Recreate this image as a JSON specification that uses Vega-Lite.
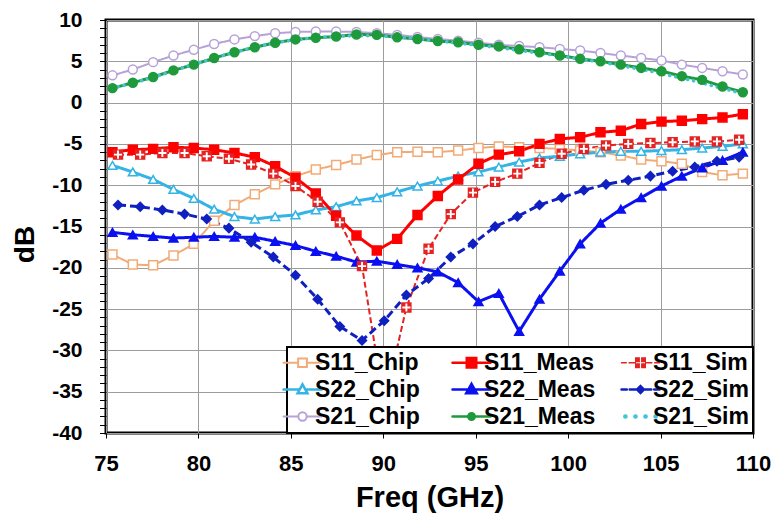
{
  "$schema": "https://vega.github.io/schema/vega-lite/v6.json",
  "width": 647,
  "height": 413,
  "autosize": {"type": "none"},
  "padding": {"left": 106, "top": 20, "right": 25, "bottom": 82},
  "background": "white",
  "config": {
    "font": "Liberation Sans",
    "view": {"stroke": "black", "strokeWidth": 3},
    "axis": {"domain": false, "grid": true, "gridColor": "#9c9c9c", "gridWidth": 1, "tickColor": "black", "tickWidth": 1, "labelColor": "black", "titleColor": "black", "labelFontWeight": "bold", "titleFontWeight": "bold", "labelFont": "Liberation Sans", "titleFont": "Liberation Sans"},
    "legend": {"strokeColor": "black", "strokeWidth": 2, "fillColor": "white", "padding": 4, "labelFont": "Liberation Sans", "labelColor": "black"}
  },
  "data": {"values": [
    {"s":"S11_Chip","f":75.35,"db":-18.4},{"s":"S11_Chip","f":76.45,"db":-19.6},{"s":"S11_Chip","f":77.55,"db":-19.7},{"s":"S11_Chip","f":78.65,"db":-18.5},{"s":"S11_Chip","f":79.75,"db":-17.1},{"s":"S11_Chip","f":80.85,"db":-14.3},{"s":"S11_Chip","f":81.95,"db":-12.4},{"s":"S11_Chip","f":83.05,"db":-11.1},{"s":"S11_Chip","f":84.15,"db":-9.9},{"s":"S11_Chip","f":85.25,"db":-8.9},{"s":"S11_Chip","f":86.35,"db":-8.1},{"s":"S11_Chip","f":87.45,"db":-7.55},{"s":"S11_Chip","f":88.55,"db":-6.9},{"s":"S11_Chip","f":89.65,"db":-6.35},{"s":"S11_Chip","f":90.75,"db":-6.0},{"s":"S11_Chip","f":91.85,"db":-5.95},{"s":"S11_Chip","f":92.95,"db":-6.0},{"s":"S11_Chip","f":94.05,"db":-5.8},{"s":"S11_Chip","f":95.15,"db":-5.5},{"s":"S11_Chip","f":96.25,"db":-5.3},{"s":"S11_Chip","f":97.35,"db":-5.4},{"s":"S11_Chip","f":98.45,"db":-5.5},{"s":"S11_Chip","f":99.55,"db":-5.6},{"s":"S11_Chip","f":100.65,"db":-5.8},{"s":"S11_Chip","f":101.75,"db":-6.0},{"s":"S11_Chip","f":102.85,"db":-6.4},{"s":"S11_Chip","f":103.95,"db":-6.9},{"s":"S11_Chip","f":105.05,"db":-7.1},{"s":"S11_Chip","f":106.15,"db":-7.4},{"s":"S11_Chip","f":107.25,"db":-8.4},{"s":"S11_Chip","f":108.35,"db":-8.8},{"s":"S11_Chip","f":109.45,"db":-8.6},
    {"s":"S22_Chip","f":75.35,"db":-7.6},{"s":"S22_Chip","f":76.45,"db":-8.4},{"s":"S22_Chip","f":77.55,"db":-9.3},{"s":"S22_Chip","f":78.65,"db":-10.5},{"s":"S22_Chip","f":79.75,"db":-11.6},{"s":"S22_Chip","f":80.85,"db":-12.9},{"s":"S22_Chip","f":81.95,"db":-13.8},{"s":"S22_Chip","f":83.05,"db":-14.1},{"s":"S22_Chip","f":84.15,"db":-13.8},{"s":"S22_Chip","f":85.25,"db":-13.6},{"s":"S22_Chip","f":86.35,"db":-13.0},{"s":"S22_Chip","f":87.45,"db":-12.6},{"s":"S22_Chip","f":88.55,"db":-11.9},{"s":"S22_Chip","f":89.65,"db":-11.5},{"s":"S22_Chip","f":90.75,"db":-10.8},{"s":"S22_Chip","f":91.85,"db":-10.1},{"s":"S22_Chip","f":92.95,"db":-9.5},{"s":"S22_Chip","f":94.05,"db":-8.9},{"s":"S22_Chip","f":95.15,"db":-8.4},{"s":"S22_Chip","f":96.25,"db":-7.8},{"s":"S22_Chip","f":97.35,"db":-7.2},{"s":"S22_Chip","f":98.45,"db":-6.7},{"s":"S22_Chip","f":99.55,"db":-6.5},{"s":"S22_Chip","f":100.65,"db":-6.2},{"s":"S22_Chip","f":101.75,"db":-6.0},{"s":"S22_Chip","f":102.85,"db":-5.9},{"s":"S22_Chip","f":103.95,"db":-5.9},{"s":"S22_Chip","f":105.05,"db":-5.8},{"s":"S22_Chip","f":106.15,"db":-5.7},{"s":"S22_Chip","f":107.25,"db":-5.5},{"s":"S22_Chip","f":108.35,"db":-5.3},{"s":"S22_Chip","f":109.45,"db":-5.0},
    {"s":"S21_Chip","f":75.35,"db":3.3},{"s":"S21_Chip","f":76.45,"db":4.0},{"s":"S21_Chip","f":77.55,"db":4.9},{"s":"S21_Chip","f":78.65,"db":5.7},{"s":"S21_Chip","f":79.75,"db":6.4},{"s":"S21_Chip","f":80.85,"db":7.1},{"s":"S21_Chip","f":81.95,"db":7.65},{"s":"S21_Chip","f":83.05,"db":8.05},{"s":"S21_Chip","f":84.15,"db":8.4},{"s":"S21_Chip","f":85.25,"db":8.55},{"s":"S21_Chip","f":86.35,"db":8.6},{"s":"S21_Chip","f":87.45,"db":8.6},{"s":"S21_Chip","f":88.55,"db":8.55},{"s":"S21_Chip","f":89.65,"db":8.4},{"s":"S21_Chip","f":90.75,"db":8.2},{"s":"S21_Chip","f":91.85,"db":7.95},{"s":"S21_Chip","f":92.95,"db":7.7},{"s":"S21_Chip","f":94.05,"db":7.5},{"s":"S21_Chip","f":95.15,"db":7.25},{"s":"S21_Chip","f":96.25,"db":7.0},{"s":"S21_Chip","f":97.35,"db":6.85},{"s":"S21_Chip","f":98.45,"db":6.7},{"s":"S21_Chip","f":99.55,"db":6.5},{"s":"S21_Chip","f":100.65,"db":6.3},{"s":"S21_Chip","f":101.75,"db":6.0},{"s":"S21_Chip","f":102.85,"db":5.7},{"s":"S21_Chip","f":103.95,"db":5.4},{"s":"S21_Chip","f":105.05,"db":5.1},{"s":"S21_Chip","f":106.15,"db":4.6},{"s":"S21_Chip","f":107.25,"db":4.2},{"s":"S21_Chip","f":108.35,"db":3.8},{"s":"S21_Chip","f":109.45,"db":3.4},
    {"s":"S21_Meas","f":75.35,"db":1.75},{"s":"S21_Meas","f":76.45,"db":2.4},{"s":"S21_Meas","f":77.55,"db":3.1},{"s":"S21_Meas","f":78.65,"db":3.9},{"s":"S21_Meas","f":79.75,"db":4.6},{"s":"S21_Meas","f":80.85,"db":5.4},{"s":"S21_Meas","f":81.95,"db":6.1},{"s":"S21_Meas","f":83.05,"db":6.7},{"s":"S21_Meas","f":84.15,"db":7.25},{"s":"S21_Meas","f":85.25,"db":7.65},{"s":"S21_Meas","f":86.35,"db":7.85},{"s":"S21_Meas","f":87.45,"db":8.0},{"s":"S21_Meas","f":88.55,"db":8.25},{"s":"S21_Meas","f":89.65,"db":8.2},{"s":"S21_Meas","f":90.75,"db":7.9},{"s":"S21_Meas","f":91.85,"db":7.7},{"s":"S21_Meas","f":92.95,"db":7.45},{"s":"S21_Meas","f":94.05,"db":7.3},{"s":"S21_Meas","f":95.15,"db":7.0},{"s":"S21_Meas","f":96.25,"db":6.8},{"s":"S21_Meas","f":97.35,"db":6.45},{"s":"S21_Meas","f":98.45,"db":6.1},{"s":"S21_Meas","f":99.55,"db":5.7},{"s":"S21_Meas","f":100.65,"db":5.3},{"s":"S21_Meas","f":101.75,"db":5.0},{"s":"S21_Meas","f":102.85,"db":4.6},{"s":"S21_Meas","f":103.95,"db":4.2},{"s":"S21_Meas","f":105.05,"db":3.8},{"s":"S21_Meas","f":106.15,"db":3.2},{"s":"S21_Meas","f":107.25,"db":2.75},{"s":"S21_Meas","f":108.35,"db":1.95},{"s":"S21_Meas","f":109.45,"db":1.25},
    {"s":"S11_Meas","f":75.35,"db":-6.0},{"s":"S11_Meas","f":76.45,"db":-5.7},{"s":"S11_Meas","f":77.55,"db":-5.6},{"s":"S11_Meas","f":78.65,"db":-5.4},{"s":"S11_Meas","f":79.75,"db":-5.5},{"s":"S11_Meas","f":80.85,"db":-5.7},{"s":"S11_Meas","f":81.95,"db":-6.1},{"s":"S11_Meas","f":83.05,"db":-6.6},{"s":"S11_Meas","f":84.15,"db":-7.7},{"s":"S11_Meas","f":85.25,"db":-9.1},{"s":"S11_Meas","f":86.35,"db":-11.0},{"s":"S11_Meas","f":87.45,"db":-13.7},{"s":"S11_Meas","f":88.55,"db":-16.1},{"s":"S11_Meas","f":89.65,"db":-17.9},{"s":"S11_Meas","f":90.75,"db":-16.5},{"s":"S11_Meas","f":91.85,"db":-13.6},{"s":"S11_Meas","f":92.95,"db":-11.3},{"s":"S11_Meas","f":94.05,"db":-9.3},{"s":"S11_Meas","f":95.15,"db":-7.4},{"s":"S11_Meas","f":96.25,"db":-6.3},{"s":"S11_Meas","f":97.35,"db":-5.9},{"s":"S11_Meas","f":98.45,"db":-5.0},{"s":"S11_Meas","f":99.55,"db":-4.4},{"s":"S11_Meas","f":100.65,"db":-4.2},{"s":"S11_Meas","f":101.75,"db":-3.6},{"s":"S11_Meas","f":102.85,"db":-3.4},{"s":"S11_Meas","f":103.95,"db":-2.6},{"s":"S11_Meas","f":105.05,"db":-2.3},{"s":"S11_Meas","f":106.15,"db":-2.2},{"s":"S11_Meas","f":107.25,"db":-2.0},{"s":"S11_Meas","f":108.35,"db":-1.8},{"s":"S11_Meas","f":109.45,"db":-1.4},
    {"s":"S22_Meas","f":75.35,"db":-15.7},{"s":"S22_Meas","f":76.45,"db":-16.0},{"s":"S22_Meas","f":77.55,"db":-16.2},{"s":"S22_Meas","f":78.65,"db":-16.4},{"s":"S22_Meas","f":79.75,"db":-16.3},{"s":"S22_Meas","f":80.85,"db":-16.2},{"s":"S22_Meas","f":81.95,"db":-16.3},{"s":"S22_Meas","f":83.05,"db":-16.3},{"s":"S22_Meas","f":84.15,"db":-16.8},{"s":"S22_Meas","f":85.25,"db":-17.3},{"s":"S22_Meas","f":86.35,"db":-18.0},{"s":"S22_Meas","f":87.45,"db":-18.6},{"s":"S22_Meas","f":88.55,"db":-19.3},{"s":"S22_Meas","f":89.65,"db":-19.2},{"s":"S22_Meas","f":90.75,"db":-19.6},{"s":"S22_Meas","f":91.85,"db":-20.0},{"s":"S22_Meas","f":92.95,"db":-20.5},{"s":"S22_Meas","f":94.05,"db":-21.8},{"s":"S22_Meas","f":95.15,"db":-24.1},{"s":"S22_Meas","f":96.25,"db":-23.1},{"s":"S22_Meas","f":97.35,"db":-27.7},{"s":"S22_Meas","f":98.45,"db":-23.8},{"s":"S22_Meas","f":99.55,"db":-20.4},{"s":"S22_Meas","f":100.65,"db":-17.1},{"s":"S22_Meas","f":101.75,"db":-14.6},{"s":"S22_Meas","f":102.85,"db":-12.9},{"s":"S22_Meas","f":103.95,"db":-11.5},{"s":"S22_Meas","f":105.05,"db":-10.1},{"s":"S22_Meas","f":106.15,"db":-8.9},{"s":"S22_Meas","f":107.25,"db":-7.9},{"s":"S22_Meas","f":108.35,"db":-7.0},{"s":"S22_Meas","f":109.45,"db":-6.0},
    {"s":"S11_Sim","f":75.65,"db":-6.3},{"s":"S11_Sim","f":76.85,"db":-6.3},{"s":"S11_Sim","f":78.05,"db":-6.1},{"s":"S11_Sim","f":79.25,"db":-6.1},{"s":"S11_Sim","f":80.45,"db":-6.5},{"s":"S11_Sim","f":81.65,"db":-6.8},{"s":"S11_Sim","f":82.85,"db":-7.5},{"s":"S11_Sim","f":84.05,"db":-8.6},{"s":"S11_Sim","f":85.25,"db":-10.1},{"s":"S11_Sim","f":86.45,"db":-12.0},{"s":"S11_Sim","f":87.65,"db":-14.5},{"s":"S11_Sim","f":88.85,"db":-19.8},{"s":"S11_Sim","f":90.05,"db":-36.5},{"s":"S11_Sim","f":91.25,"db":-24.8},{"s":"S11_Sim","f":92.45,"db":-17.7},{"s":"S11_Sim","f":93.65,"db":-13.5},{"s":"S11_Sim","f":94.85,"db":-10.9},{"s":"S11_Sim","f":96.05,"db":-9.6},{"s":"S11_Sim","f":97.25,"db":-8.6},{"s":"S11_Sim","f":98.45,"db":-7.3},{"s":"S11_Sim","f":99.65,"db":-6.2},{"s":"S11_Sim","f":100.85,"db":-5.6},{"s":"S11_Sim","f":102.05,"db":-5.2},{"s":"S11_Sim","f":103.25,"db":-5.0},{"s":"S11_Sim","f":104.45,"db":-4.9},{"s":"S11_Sim","f":105.65,"db":-4.8},{"s":"S11_Sim","f":106.85,"db":-4.7},{"s":"S11_Sim","f":108.05,"db":-4.7},{"s":"S11_Sim","f":109.25,"db":-4.5},
    {"s":"S22_Sim","f":75.65,"db":-12.4},{"s":"S22_Sim","f":76.85,"db":-12.6},{"s":"S22_Sim","f":78.05,"db":-13.0},{"s":"S22_Sim","f":79.25,"db":-13.5},{"s":"S22_Sim","f":80.45,"db":-14.1},{"s":"S22_Sim","f":81.65,"db":-15.2},{"s":"S22_Sim","f":82.85,"db":-16.9},{"s":"S22_Sim","f":84.05,"db":-18.7},{"s":"S22_Sim","f":85.25,"db":-20.9},{"s":"S22_Sim","f":86.45,"db":-23.8},{"s":"S22_Sim","f":87.65,"db":-27.1},{"s":"S22_Sim","f":88.85,"db":-28.8},{"s":"S22_Sim","f":90.05,"db":-26.4},{"s":"S22_Sim","f":91.25,"db":-23.3},{"s":"S22_Sim","f":92.45,"db":-21.3},{"s":"S22_Sim","f":93.65,"db":-18.7},{"s":"S22_Sim","f":94.85,"db":-17.1},{"s":"S22_Sim","f":96.05,"db":-15.0},{"s":"S22_Sim","f":97.25,"db":-13.8},{"s":"S22_Sim","f":98.45,"db":-12.4},{"s":"S22_Sim","f":99.65,"db":-11.5},{"s":"S22_Sim","f":100.85,"db":-10.6},{"s":"S22_Sim","f":102.05,"db":-9.9},{"s":"S22_Sim","f":103.25,"db":-9.4},{"s":"S22_Sim","f":104.45,"db":-8.9},{"s":"S22_Sim","f":105.65,"db":-8.3},{"s":"S22_Sim","f":106.85,"db":-7.8},{"s":"S22_Sim","f":108.05,"db":-7.1},{"s":"S22_Sim","f":109.25,"db":-6.6},
    {"s":"S21_Sim","f":75.65,"db":1.9},{"s":"S21_Sim","f":76.85,"db":2.6},{"s":"S21_Sim","f":78.05,"db":3.4},{"s":"S21_Sim","f":79.25,"db":4.3},{"s":"S21_Sim","f":80.45,"db":5.1},{"s":"S21_Sim","f":81.65,"db":5.9},{"s":"S21_Sim","f":82.85,"db":6.6},{"s":"S21_Sim","f":84.05,"db":7.2},{"s":"S21_Sim","f":85.25,"db":7.6},{"s":"S21_Sim","f":86.45,"db":7.9},{"s":"S21_Sim","f":87.65,"db":8.05},{"s":"S21_Sim","f":88.85,"db":8.1},{"s":"S21_Sim","f":90.05,"db":8.05},{"s":"S21_Sim","f":91.25,"db":7.85},{"s":"S21_Sim","f":92.45,"db":7.6},{"s":"S21_Sim","f":93.65,"db":7.3},{"s":"S21_Sim","f":94.85,"db":7.0},{"s":"S21_Sim","f":96.05,"db":6.7},{"s":"S21_Sim","f":97.25,"db":6.35},{"s":"S21_Sim","f":98.45,"db":6.0},{"s":"S21_Sim","f":99.65,"db":5.6},{"s":"S21_Sim","f":100.85,"db":5.2},{"s":"S21_Sim","f":102.05,"db":4.8},{"s":"S21_Sim","f":103.25,"db":4.3},{"s":"S21_Sim","f":104.45,"db":3.8},{"s":"S21_Sim","f":105.65,"db":3.2},{"s":"S21_Sim","f":106.85,"db":2.6},{"s":"S21_Sim","f":108.05,"db":1.9},{"s":"S21_Sim","f":109.25,"db":1.2}
  ]},
  "encoding": {
    "x": {"field": "f", "type": "quantitative", "scale": {"domain": [75, 110], "nice": false, "zero": false},
      "axis": {"values": [75, 80, 85, 90, 95, 100, 105, 110], "title": "Freq (GHz)", "titleFontSize": 29, "labelFontSize": 22, "tickSize": 5, "labelPadding": 15, "titlePadding": 9, "labelFlush": false, "labelOverlap": false}},
    "y": {"field": "db", "type": "quantitative", "scale": {"domain": [-40, 10], "nice": false, "zero": false},
      "axis": {"values": [-40,-39,-38,-37,-36,-35,-34,-33,-32,-31,-30,-29,-28,-27,-26,-25,-24,-23,-22,-21,-20,-19,-18,-17,-16,-15,-14,-13,-12,-11,-10,-9,-8,-7,-6,-5,-4,-3,-2,-1,0,1,2,3,4,5,6,7,8,9,10],
        "labelExpr": "datum.value % 5 === 0 ? '' + datum.value : ''",
        "gridOpacity": {"condition": {"test": "datum.value % 5 === 0", "value": 1}, "value": 0},
        "tickSize": 6.5, "labelPadding": 17.5, "labelFontSize": 21, "title": "dB", "titleFontSize": 28, "titlePadding": 12, "titleY": 224, "labelFlush": false, "labelOverlap": false}}
  },
  "layer": [
    {
      "transform": [{"filter": "indexof(['S11_Chip','S21_Chip','S11_Sim'], datum.s) >= 0"}],
      "mark": {"type": "line", "strokeWidth": 2},
      "encoding": {
        "color": {"field": "s", "type": "nominal",
          "scale": {"domain": ["S11_Chip","S22_Chip","S21_Chip","S11_Meas","S22_Meas","S21_Meas","S11_Sim","S22_Sim","S21_Sim"], "range": ["#F2AA76","#33B3E6","#B7A2D8","#FF0000","#0A10F0","#1E9A3C","#E52222","#1020C0","#45C3D3"]},
          "legend": {"orient": "bottom-right", "offset": 0, "title": null, "columns": 3, "gridAlign": "all", "columnPadding": 20, "rowPadding": 3, "padding": 4, "symbolSize": 1444, "labelFontSize": 23, "labelFontWeight": "bold", "labelOffset": 1, "labelLimit": 200, "fillColor": "white", "strokeColor": "black", "zindex": 1,
            "encode": {"symbols": {"update": {
              "shape": {"signal": "datum.value==='S11_Chip'?'M-1,0H-0.23M0.23,0H1M-0.23,-0.23H0.23V0.23H-0.23Z':datum.value==='S11_Meas'?'M-1,0H1M-0.25,-0.25H0.25V0.25H-0.25Z':datum.value==='S11_Sim'?'M-1,0H-0.75M-0.6,0H-0.27M0.27,0H0.6M0.75,0H1M-0.25,-0.25H-0.07V-0.07H-0.25ZM0.07,-0.25H0.25V-0.07H0.07ZM-0.25,0.07H-0.07V0.25H-0.25ZM0.07,0.07H0.25V0.25H0.07Z':datum.value==='S22_Chip'?'M-1,0H-0.15M0.15,0H1M0,-0.27L0.26,0.2H-0.26Z':datum.value==='S22_Meas'?'M-1,0H1M0,-0.3L0.28,0.2H-0.28Z':datum.value==='S22_Sim'?'M-1,0H-0.72M-0.57,0H-0.18M0.18,0H0.57M0.72,0H1M0,-0.18L0.18,0L0,0.18L-0.18,0Z':datum.value==='S21_Chip'?'M-1,0H-0.22M0.22,0H1M-0.22,0A0.22,0.22,0,1,0,0.22,0A0.22,0.22,0,1,0,-0.22,0Z':datum.value==='S21_Meas'?'M-1,0H1M-0.17,0A0.17,0.17,0,1,0,0.17,0A0.17,0.17,0,1,0,-0.17,0Z':'M-0.8,0H-0.79M-0.27,0H-0.26M0.26,0H0.27M0.79,0H0.8'"},
              "fill": {"signal": "indexof(['S11_Chip','S22_Chip','S21_Chip','S21_Sim'], datum.value) >= 0 ? 'white' : scale('color', datum.value)"},
              "stroke": {"signal": "scale('color', datum.value)"},
              "strokeWidth": {"signal": "datum.value==='S21_Sim' ? 4.5 : datum.value==='S11_Sim' ? 1.5 : indexof(['S11_Meas','S22_Meas','S21_Meas','S22_Sim','S22_Chip'], datum.value) >= 0 ? 2.5 : 2"},
              "strokeCap": {"value": "round"},
              "opacity": {"value": 1},
              "fillOpacity": {"value": 1}
            }}}
          }},
        "strokeDash": {"field": "s", "type": "nominal", "legend": null,
          "scale": {"domain": ["S11_Chip","S11_Meas","S11_Sim","S22_Chip","S22_Meas","S22_Sim","S21_Chip","S21_Meas","S21_Sim"], "range": [[1,0],[1,0],[6,3],[1,0],[1,0],[8,4],[1,0],[1,0],[1,5]]}}
      }
    },
    {
      "transform": [{"filter": "indexof(['S22_Chip','S11_Meas','S22_Meas','S21_Meas','S22_Sim'], datum.s) >= 0"}],
      "mark": {"type": "line", "strokeWidth": 3},
      "encoding": {
        "color": {"field": "s", "type": "nominal",
          "scale": {"domain": ["S11_Chip","S22_Chip","S21_Chip","S11_Meas","S22_Meas","S21_Meas","S11_Sim","S22_Sim","S21_Sim"], "range": ["#F2AA76","#33B3E6","#B7A2D8","#FF0000","#0A10F0","#1E9A3C","#E52222","#1020C0","#45C3D3"]}},
        "strokeDash": {"field": "s", "type": "nominal", "legend": null,
          "scale": {"domain": ["S11_Chip","S11_Meas","S11_Sim","S22_Chip","S22_Meas","S22_Sim","S21_Chip","S21_Meas","S21_Sim"], "range": [[1,0],[1,0],[6,3],[1,0],[1,0],[8,4],[1,0],[1,0],[1,5]]}}
      }
    },
    {
      "transform": [{"filter": "datum.s === 'S21_Sim'"}],
      "mark": {"type": "line", "strokeWidth": 3.5, "strokeCap": "round", "strokeDash": [0.1, 6]},
      "encoding": {
        "color": {"field": "s", "type": "nominal",
          "scale": {"domain": ["S11_Chip","S22_Chip","S21_Chip","S11_Meas","S22_Meas","S21_Meas","S11_Sim","S22_Sim","S21_Sim"], "range": ["#F2AA76","#33B3E6","#B7A2D8","#FF0000","#0A10F0","#1E9A3C","#E52222","#1020C0","#45C3D3"]}}
      }
    },
    {
      "transform": [{"filter": "datum.s !== 'S21_Sim'"}],
      "mark": {"type": "point", "filled": true, "size": 80, "strokeWidth": 1.5, "opacity": 1},
      "encoding": {
        "shape": {"field": "s", "type": "nominal", "legend": null,
          "scale": {"domain": ["S11_Chip","S11_Meas","S11_Sim","S22_Chip","S22_Meas","S22_Sim","S21_Chip","S21_Meas"], "range": ["square","square","square","triangle-up","triangle-up","diamond","circle","circle"]}},
        "fill": {"field": "s", "type": "nominal", "legend": null,
          "scale": {"domain": ["S11_Chip","S11_Meas","S11_Sim","S22_Chip","S22_Meas","S22_Sim","S21_Chip","S21_Meas"], "range": ["white","#FF0000","#E52222","white","#0A10F0","#1020C0","white","#1E9A3C"]}},
        "stroke": {"field": "s", "type": "nominal", "legend": null,
          "scale": {"domain": ["S11_Chip","S11_Meas","S11_Sim","S22_Chip","S22_Meas","S22_Sim","S21_Chip","S21_Meas"], "range": ["#F2AA76","#FF0000","#E52222","#33B3E6","#0A10F0","#1020C0","#B7A2D8","#1E9A3C"]}}
      }
    },
    {
      "transform": [{"filter": "datum.s === 'S11_Sim'"}],
      "mark": {"type": "point", "filled": true, "shape": "M-0.85,-0.2H0.85V0.2H-0.85ZM-0.2,-0.85H0.2V0.85H-0.2Z", "size": 90, "fill": "white", "strokeWidth": 0, "opacity": 1},
      "encoding": {}
    }
  ]
}
